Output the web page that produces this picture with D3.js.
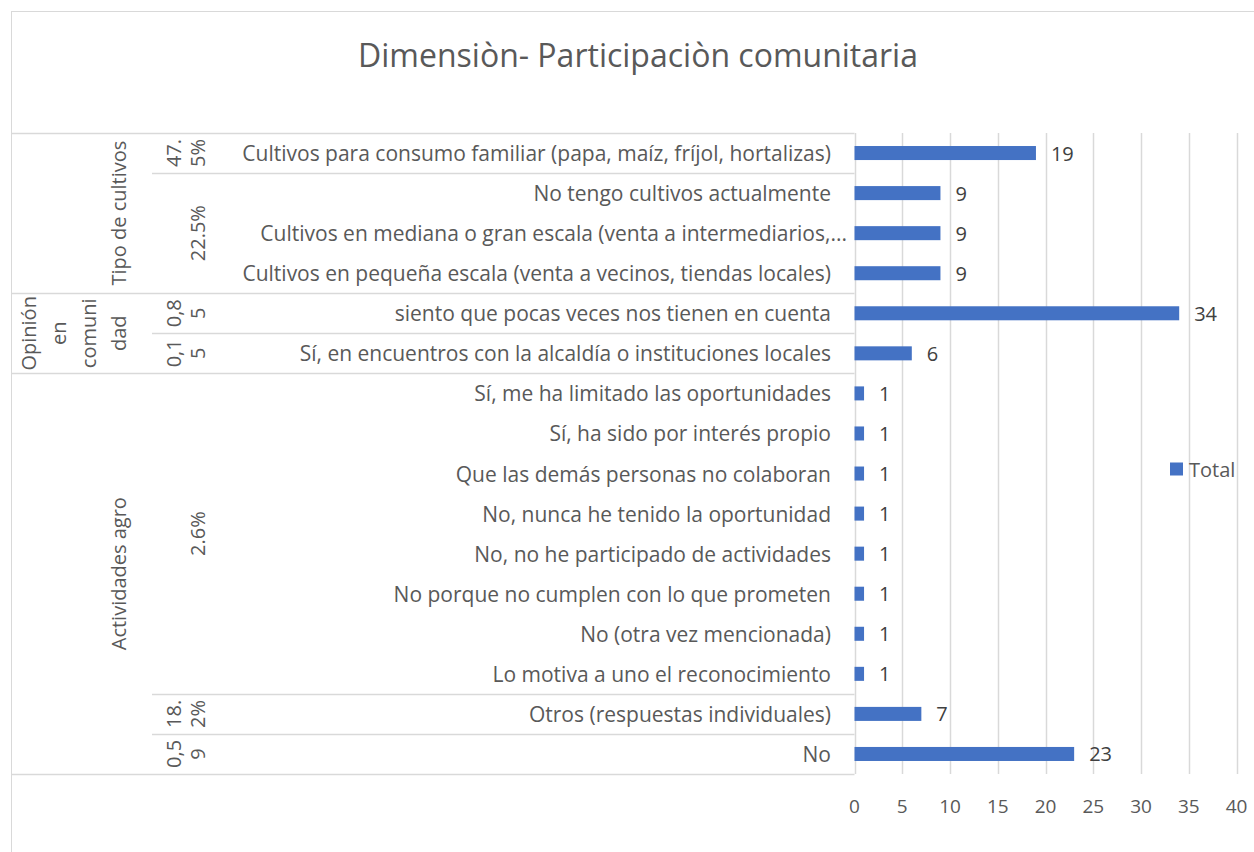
<!DOCTYPE html>
<html>

<head>
  <meta charset="utf-8">
  <title>Dimensiòn- Participaciòn comunitaria</title>
  <script src="https://d3js.org/d3.v7.min.js"></script>
  <style type="text/css">
    html, body {
      margin: 0;
      padding: 0;
      background: #fff;
    }

    svg text {
      font-family: "Open Sans", "Noto Sans", sans-serif;
    }
  </style>
</head>

<body>
  <div id="chart"></div>

  <script>

    // categorias (de arriba hacia abajo) y valores
    var categories = [
      "Cultivos para consumo familiar (papa, maíz, fríjol, hortalizas)",
      "No tengo cultivos actualmente",
      "Cultivos en mediana o gran escala (venta a intermediarios,...",
      "Cultivos en pequeña escala (venta a vecinos, tiendas locales)",
      "siento que pocas veces nos tienen en cuenta",
      "Sí, en encuentros con la alcaldía o instituciones locales",
      "Sí, me ha limitado las oportunidades",
      "Sí, ha sido por interés propio",
      "Que las demás personas no colaboran",
      "No, nunca he tenido la oportunidad",
      "No, no he participado de actividades",
      "No porque no cumplen con lo que prometen",
      "No (otra vez mencionada)",
      "Lo motiva a uno el reconocimiento",
      "Otros (respuestas individuales)",
      "No"
    ];
    var values = [19, 9, 9, 9, 34, 6, 1, 1, 1, 1, 1, 1, 1, 1, 7, 23];

    // segundo nivel: etiqueta y cuantas filas abarca
    var subLabels = ["47.5%", "22.5%", "0,85", "0,15", "2.6%", "18.2%", "0,59"];
    var subSpans = [1, 3, 1, 1, 8, 1, 1];

    // primer nivel: lineas tal como se ven envueltas, y filas
    var groupLines = [["Tipo de cultivos"], ["Opinión", "en", "comuni", "dad"], ["Actividades agro"]];
    var groupSpans = [4, 2, 10];

    var xTicks = [0, 5, 10, 15, 20, 25, 30, 35, 40];
    var seriesName = "Total";

    var W = 1254, H = 852;
    var plot = { left: 854.5, right: 1236.5, top: 133, bottom: 774 };
    var gridColor = "#d9d9d9", textColor = "#595959", barColor = "#4472C4";

    var svg = d3.select("#chart").append("svg")
      .attr("width", W)
      .attr("height", H);

    // borde del grafico
    svg.append("rect")
      .attr("x", 11.5).attr("y", 11.5)
      .attr("width", W + 20).attr("height", H + 20)
      .attr("fill", "#fff")
      .attr("stroke", gridColor);

    // titulo
    svg.append("text")
      .attr("x", 638).attr("y", 67)
      .attr("text-anchor", "middle")
      .attr("font-size", 32)
      .attr("fill", textColor)
      .text("Dimensiòn- Participaciòn comunitaria");

    var x = d3.scaleLinear().domain([0, 40]).range([plot.left, plot.right]);
    var y = d3.scaleBand().domain(categories).range([plot.top, plot.bottom])
      .paddingInner(0.65).paddingOuter(0.325);
    var step = y.step();

    // lineas de cuadricula
    svg.selectAll(".grid")
      .data(xTicks)
      .join("line")
      .attr("class", "grid")
      .attr("x1", d => Math.round(x(d)) + 0.5)
      .attr("x2", d => Math.round(x(d)) + 0.5)
      .attr("y1", plot.top)
      .attr("y2", plot.bottom)
      .attr("stroke", gridColor)
      .attr("stroke-width", 1.5);

    // etiquetas eje x
    svg.selectAll(".xtick")
      .data(xTicks)
      .join("text")
      .attr("class", "xtick")
      .attr("x", d => x(d))
      .attr("y", 806)
      .attr("text-anchor", "middle")
      .attr("dominant-baseline", "central")
      .attr("font-size", 19)
      .attr("fill", textColor)
      .text(d => d);

    // barras
    svg.selectAll(".bar")
      .data(values)
      .join("rect")
      .attr("class", "bar")
      .attr("x", x(0))
      .attr("y", (d, i) => y(categories[i]))
      .attr("width", d => x(d) - x(0))
      .attr("height", y.bandwidth())
      .attr("fill", barColor);

    // etiquetas de datos
    svg.selectAll(".val")
      .data(values)
      .join("text")
      .attr("class", "val")
      .attr("x", d => x(d) + 15)
      .attr("y", (d, i) => y(categories[i]) + y.bandwidth() / 2)
      .attr("dominant-baseline", "central")
      .attr("font-size", 20)
      .attr("fill", "#404040")
      .text(d => d);

    // etiquetas de categoria (tercer nivel)
    svg.selectAll(".cat")
      .data(categories)
      .join("text")
      .attr("class", "cat")
      .attr("x", d => d.endsWith("...") ? 847 : 831)
      .attr("y", d => y(d) + y.bandwidth() / 2)
      .attr("text-anchor", "end")
      .attr("dominant-baseline", "central")
      .attr("font-size", 21)
      .attr("fill", textColor)
      .text(d => d);

    // tabla jerarquica: limites de filas
    function rowEdge(k) { return plot.top + k * step; }

    var subEdges = Array.from(d3.cumsum(subSpans));
    var groupEdges = Array.from(d3.cumsum(groupSpans));
    var hLines = [{ k: 0, x1: 12 }];
    subEdges.forEach(function (k) {
      hLines.push({ k: k, x1: groupEdges.includes(k) ? 12 : 152 });
    });

    svg.selectAll(".hline")
      .data(hLines)
      .join("line")
      .attr("class", "hline")
      .attr("x1", d => d.x1)
      .attr("x2", plot.left)
      .attr("y1", d => Math.round(rowEdge(d.k)) + 0.5)
      .attr("y2", d => Math.round(rowEdge(d.k)) + 0.5)
      .attr("stroke", gridColor)
      .attr("stroke-width", 1.5);

    // segundo nivel (rotado, con corte de caracteres si solo ocupa una fila)
    var subStart = [0].concat(subEdges.slice(0, -1));
    svg.selectAll(".sub")
      .data(subLabels)
      .join("text")
      .attr("class", "sub")
      .attr("transform", (d, i) => {
        var cy = rowEdge(subStart[i] + subSpans[i] / 2);
        return "translate(0," + cy + ") rotate(-90)";
      })
      .attr("text-anchor", "middle")
      .attr("font-size", 20)
      .attr("fill", textColor)
      .each(function (d, i) {
        var lines = subSpans[i] === 1 ? [d.slice(0, 3), d.slice(3)] : [d];
        var t = d3.select(this);
        lines.forEach(function (ln, j) {
          t.append("tspan")
            .attr("x", 0)
            .attr("y", 197 - (lines.length - 1 - j) * 24)
            .attr("dominant-baseline", "central")
            .text(ln);
        });
      });

    // primer nivel
    var groupStart = [0].concat(groupEdges.slice(0, -1));
    svg.selectAll(".grp")
      .data(groupLines)
      .join("text")
      .attr("class", "grp")
      .attr("transform", (d, i) => {
        var cy = rowEdge(groupStart[i] + groupSpans[i] / 2);
        return "translate(0," + cy + ") rotate(-90)";
      })
      .attr("text-anchor", "middle")
      .attr("font-size", 20)
      .attr("fill", textColor)
      .each(function (lines) {
        var t = d3.select(this);
        lines.forEach(function (ln, j) {
          t.append("tspan")
            .attr("x", 0)
            .attr("y", 118 - (lines.length - 1 - j) * 30)
            .attr("dominant-baseline", "central")
            .text(ln);
        });
      });

    // leyenda
    var legend = svg.append("g").attr("transform", "translate(1170,469)");
    legend.append("rect")
      .attr("x", 0).attr("y", -6.5)
      .attr("width", 13).attr("height", 13)
      .attr("fill", barColor);
    legend.append("text")
      .attr("x", 19).attr("y", 0)
      .attr("dominant-baseline", "central")
      .attr("font-size", 20)
      .attr("fill", textColor)
      .text(seriesName);

  </script>

</body>

</html>
